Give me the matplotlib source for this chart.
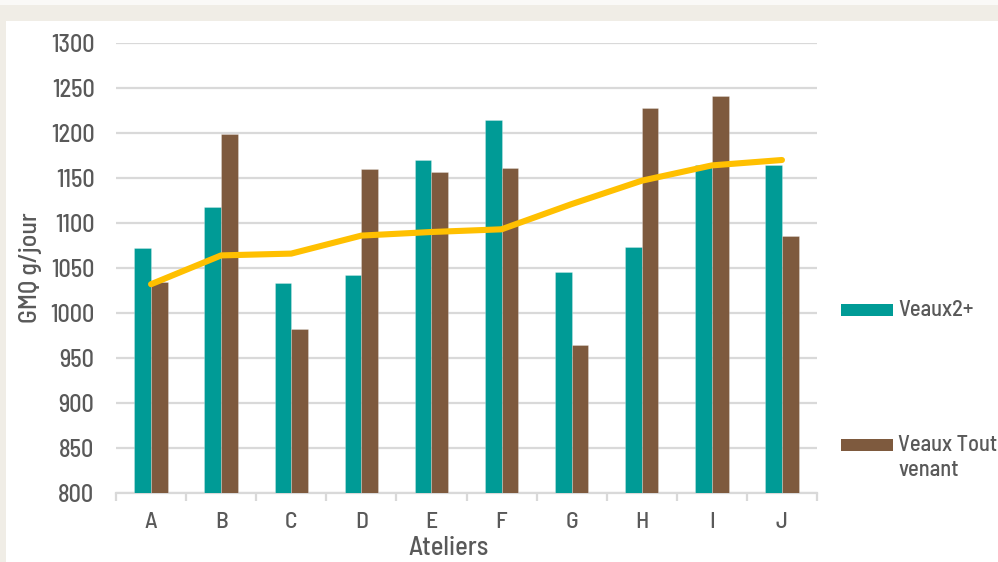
import matplotlib
matplotlib.use("Agg")
import matplotlib.pyplot as plt
from matplotlib.patches import Rectangle
import numpy as np

categories = ["A", "B", "C", "D", "E", "F", "G", "H", "I", "J"]
veaux2 = [1072, 1118, 1033, 1042, 1170, 1214, 1046, 1073, 1165, 1165]
tout_venant = [1035, 1199, 982, 1160, 1157, 1161, 964, 1228, 1241, 1086]
trend = [1032, 1064, 1066, 1086, 1090, 1093, 1121, 1147, 1164, 1170]
series_names = ["Veaux2+", "Veaux Tout\nvenant"]
yticks = [800, 850, 900, 950, 1000, 1050, 1100, 1150, 1200, 1250, 1300]

TEAL = "#009B96"
BROWN = "#7E5A3E"
GOLD = "#FFC000"
GRID = "#D9D9D9"
TXT = "#595959"
BEIGE = "#F0EDE6"

FONT = ["Barlow Semi Condensed", "DejaVu Sans"]
plt.rcParams["font.family"] = FONT
plt.rcParams["font.weight"] = 500

W, H = 998, 562
fig = plt.figure(figsize=(W / 100, H / 100), dpi=100)
fig.patch.set_facecolor("#FAF9F7")

def fx(px):
    return px / W

def fy(py):
    return 1 - py / H

# beige frame + white inner panel
fig.patches.append(Rectangle((0, 0), 1, fy(5), transform=fig.transFigure,
                             facecolor=BEIGE, edgecolor="none", zorder=-3))
fig.patches.append(Rectangle((fx(6), 0), 1 - fx(6), fy(21), transform=fig.transFigure,
                             facecolor="white", edgecolor="none", zorder=-2))

ax = fig.add_axes([fx(116), fy(493), fx(817) - fx(116), fy(43) - fy(493)])
ax.set_facecolor("none")

x = np.arange(len(categories))
bw = 0.238
ax.bar(x - bw / 2, veaux2, width=bw, color=TEAL,
       edgecolor=(1, 1, 1, 0.35), linewidth=0.5, zorder=2)
ax.bar(x + bw / 2, tout_venant, width=bw, color=BROWN,
       edgecolor=(1, 1, 1, 0.35), linewidth=0.5, zorder=2)
ax.plot(x, trend, color=GOLD, linewidth=4.4, solid_capstyle="round",
        solid_joinstyle="round", zorder=3)

ax.set_xlim(-0.5, len(categories) - 0.5)
ax.set_ylim(800, 1300)
ax.set_yticks(yticks)
ax.set_yticklabels([str(v) for v in yticks])
ax.yaxis.grid(True, color=GRID, linewidth=1.6, zorder=0)
ax.set_axisbelow(True)

for s in ["top", "right", "left"]:
    ax.spines[s].set_visible(False)
ax.spines["bottom"].set_color(GRID)
ax.spines["bottom"].set_linewidth(1.6)
ax.spines["bottom"].set_zorder(1)

ax.set_xticks(x)
ax.set_xticklabels(categories)
ax.set_xticks(np.arange(-0.5, len(categories), 1.0), minor=True)
ax.tick_params(axis="x", which="major", length=0, pad=14, labelsize=17, labelcolor=TXT)
ax.tick_params(axis="x", which="minor", length=5.5, width=1.6, color=GRID)
ax.tick_params(axis="y", length=0, pad=15.5, labelsize=17.5, labelcolor=TXT)

fig.text(fx(30), fy(268), "GMQ g/jour", rotation=90, ha="center", va="center",
         fontsize=18.5, color=TXT)
fig.text(fx(449), fy(548), "Ateliers", ha="center", va="center",
         fontsize=19, color=TXT)

# legend
for name, col, yc in [(series_names[0], TEAL, 310), (series_names[1], BROWN, 445)]:
    fig.patches.append(Rectangle((fx(841), fy(yc + 6)), fx(893) - fx(841), fy(yc - 6) - fy(yc + 6),
                                 transform=fig.transFigure, facecolor=col, edgecolor="none"))
    if "\n" in name:
        fig.text(fx(898), fy(yc - 10), name, ha="left", va="top",
                 fontsize=16.2, color=TXT, linespacing=1.3)
    else:
        fig.text(fx(898), fy(yc), name, ha="left", va="center",
                 fontsize=16.2, color=TXT)

fig.savefig("out.png", dpi=100, facecolor=fig.get_facecolor())
